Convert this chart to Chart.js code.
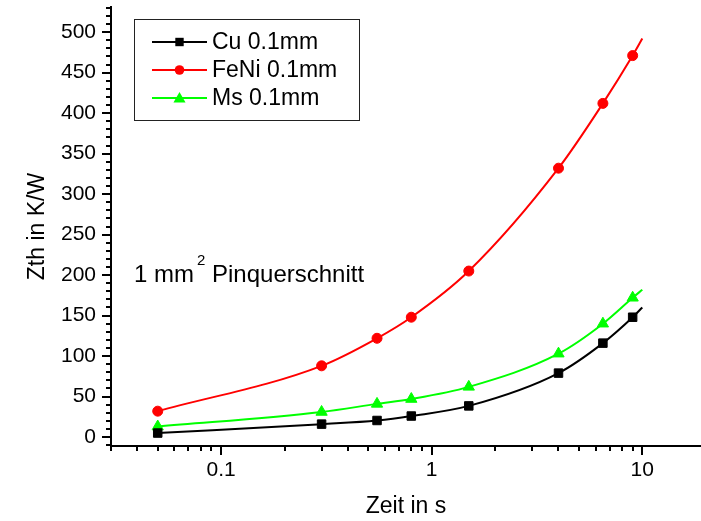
<!DOCTYPE html>
<html>
<head>
<meta charset="utf-8">
<script src="https://cdn.jsdelivr.net/npm/chart.js@4.4.1/dist/chart.umd.min.js"></script>
<style>
  html, body { margin: 0; padding: 0; background: #fff; }
  #zthChart { display: block; }
</style>
</head>
<body>
<canvas id="zthChart" width="701" height="521"></canvas>
<script>
// Zeit in s (last point = end of the fitted curve, no marker)
var zeit = [0.05, 0.3, 0.55, 0.8, 1.5, 4, 6.5, 9, 10];
var marker = [true, true, true, true, true, true, true, true, false];

// Zth in K/W
var zthCu = [5, 16, 20.5, 26, 38.5, 79, 116, 148, 160];
var zthFeNi = [32, 88, 122, 148, 205, 332, 412, 471, 492];
var zthMs = [13, 31, 41, 47, 62, 103, 140, 172, 182];

var seriesNames = ['Cu 0.1mm', 'FeNi 0.1mm', 'Ms 0.1mm'];
var xTickValues = [0.1, 1, 10];
var yTickValues = [0, 50, 100, 150, 200, 250, 300, 350, 400, 450, 500];

var FONT = "'Liberation Sans', Arial, sans-serif";
Chart.defaults.font.family = FONT;
Chart.defaults.color = '#000';

function points(values) {
    return values.map(function (v, i) { return { x: zeit[i], y: v }; });
}

function series(label, values, color, style, radius) {
    return {
        label: label,
        data: points(values),
        borderColor: color,
        backgroundColor: color,
        borderWidth: 2,
        pointStyle: style,
        pointRadius: function (c) { return marker[c.dataIndex] ? radius : 0; },
        pointHoverRadius: function (c) { return marker[c.dataIndex] ? radius : 0; },
        pointBorderWidth: 1,
        cubicInterpolationMode: 'monotone',
        fill: false
    };
}

function drawMarker(ctx, style, x, y, r) {
    ctx.beginPath();
    if (style === 'rect') {
        ctx.rect(x - r, y - r, 2 * r, 2 * r);
    } else if (style === 'circle') {
        ctx.arc(x, y, r, 0, Math.PI * 2);
    } else {
        ctx.moveTo(x, y - r * 1.1);
        ctx.lineTo(x + r * 1.1, y + r * 0.8);
        ctx.lineTo(x - r * 1.1, y + r * 0.8);
        ctx.closePath();
    }
    ctx.fill();
}

var decorations = {
    id: 'decorations',
    afterDraw: function (chart) {
        var ctx = chart.ctx, xs = chart.scales.x, ys = chart.scales.y, area = chart.chartArea;
        ctx.save();
        ctx.strokeStyle = '#000';
        ctx.lineWidth = 2;

        // y ticks: minor every 10, major every 50
        for (var v = Math.ceil(ys.min / 10) * 10; v <= ys.max; v += 10) {
            var py = Math.round(ys.getPixelForValue(v));
            var len = v % 50 === 0 ? 9 : 5;
            ctx.beginPath();
            ctx.moveTo(area.left, py);
            ctx.lineTo(area.left - len, py);
            ctx.stroke();
        }

        // x ticks: k * 10^n
        for (var n = -2; n <= 1; n++) {
            for (var k = 1; k <= 9; k++) {
                var val = k * Math.pow(10, n);
                if (val < xs.min - 1e-9 || val > xs.max) continue;
                var px = Math.round(xs.getPixelForValue(val));
                var l = k === 1 ? 9 : 5;
                ctx.beginPath();
                ctx.moveTo(px, area.bottom);
                ctx.lineTo(px, area.bottom + l);
                ctx.stroke();
            }
        }

        // legend box
        ctx.lineWidth = 1;
        ctx.strokeStyle = '#222';
        ctx.strokeRect(134.5, 19.5, 225, 101);
        var rowY = [42, 70, 98];
        var radii = [4.2, 4.8, 5.5];
        chart.data.datasets.forEach(function (ds, i) {
            ctx.strokeStyle = ds.borderColor;
            ctx.fillStyle = ds.backgroundColor;
            ctx.lineWidth = 2;
            ctx.beginPath();
            ctx.moveTo(152, rowY[i]);
            ctx.lineTo(207, rowY[i]);
            ctx.stroke();
            drawMarker(ctx, ds.pointStyle, 179.5, rowY[i], radii[i]);
            ctx.fillStyle = '#000';
            ctx.font = '23px ' + FONT;
            ctx.textBaseline = 'middle';
            ctx.textAlign = 'left';
            ctx.fillText(ds.label, 212, rowY[i] + 1);
        });

        // annotation
        ctx.fillStyle = '#000';
        ctx.textBaseline = 'alphabetic';
        ctx.font = '24px ' + FONT;
        var tx = 134, ty = 282;
        ctx.fillText('1 mm', tx, ty);
        tx += ctx.measureText('1 mm').width;
        ctx.font = '15px ' + FONT;
        ctx.fillText('2', tx + 3, ty - 17);
        tx += ctx.measureText('2').width + 3;
        ctx.font = '24px ' + FONT;
        ctx.fillText(' Pinquerschnitt', tx, ty);
        ctx.restore();
    }
};

new Chart(document.getElementById('zthChart').getContext('2d'), {
    type: 'line',
    data: {
        datasets: [
            series(seriesNames[0], zthCu, '#000000', 'rect', 6),
            series(seriesNames[1], zthFeNi, '#ff0000', 'circle', 5),
            series(seriesNames[2], zthMs, '#00ff00', 'triangle', 6.5)
        ]
    },
    options: {
        responsive: false,
        animation: false,
        layout: { autoPadding: false, padding: { top: 7, right: 0, bottom: 0, left: 0 } },
        plugins: {
            legend: { display: false },
            tooltip: { enabled: false }
        },
        scales: {
            x: {
                type: 'logarithmic',
                min: 0.03,
                max: 19,
                afterBuildTicks: function (s) {
                    s.ticks = xTickValues.map(function (v) { return { value: v }; });
                },
                afterFit: function (s) {
                    s.height = 75;
                    s.paddingLeft = 0;
                    s.paddingRight = 0;
                },
                ticks: {
                    autoSkip: false,
                    maxRotation: 0,
                    padding: 12,
                    font: { size: 21 },
                    callback: function (v) { return String(v); }
                },
                grid: { display: false, drawTicks: false },
                border: { display: true, color: '#000', width: 2 },
                title: {
                    display: true,
                    text: 'Zeit in s',
                    font: { size: 23 },
                    padding: { top: 0, bottom: 1 }
                }
            },
            y: {
                type: 'linear',
                min: -11,
                max: 531,
                afterBuildTicks: function (s) {
                    s.ticks = yTickValues.map(function (v) { return { value: v }; });
                },
                afterFit: function (s) {
                    s.width = 111;
                    s.paddingTop = 0;
                    s.paddingBottom = 0;
                },
                ticks: {
                    autoSkip: false,
                    padding: 15,
                    font: { size: 21 }
                },
                grid: { display: false, drawTicks: false },
                border: { display: true, color: '#000', width: 2 },
                title: {
                    display: true,
                    text: 'Zth in K/W',
                    font: { size: 23 },
                    padding: { top: 24, bottom: 0 }
                }
            }
        }
    },
    plugins: [decorations]
});
</script>
</body>
</html>
